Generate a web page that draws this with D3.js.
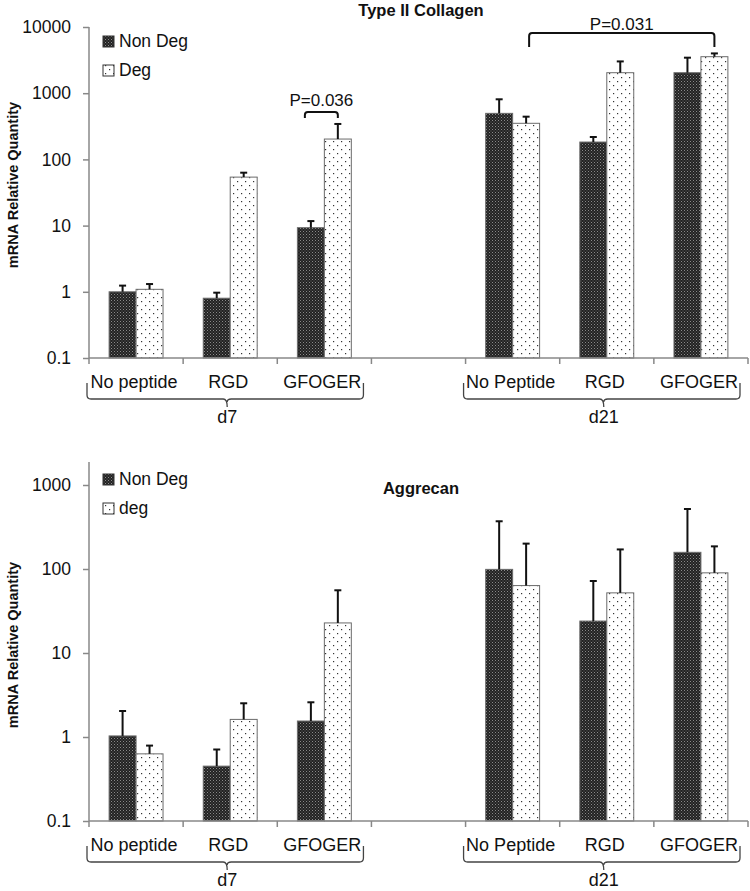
<!DOCTYPE html>
<html>
<head>
<meta charset="utf-8">
<script src="https://cdn.jsdelivr.net/npm/d3@7"></script>
<style>
  html, body { margin: 0; padding: 0; background: #fff; }
  svg text { font-family: "Liberation Sans", Arial, sans-serif; fill: #111; }
</style>
</head>
<body>
<svg id="chart" width="750" height="891"></svg>
<script>
// ---- data ----
const categories = ["No peptide", "RGD", "GFOGER", "No Peptide", "RGD", "GFOGER"];
const groups = ["d7", "d21"];
const slots = [0, 1, 2, 4, 5, 6];           // category slot on the axis (slot 3 is the empty gap)
const yTicks = [0.1, 1, 10, 100, 1000, 10000];
const yTicksAgg = [0.1, 1, 10, 100, 1000];

const colNonDeg    = [1.0, 0.8, 9.3, 496, 183, 2040];
const colNonDegErr = [0.24, 0.17, 2.4, 313, 35, 1400];
const colDeg       = [1.09, 54, 203, 351, 2040, 3560];
const colDegErr    = [0.22, 9, 140, 91, 980, 430];

const aggNonDeg    = [1.03, 0.45, 1.55, 99, 24, 158];
const aggNonDegErr = [1.01, 0.26, 1.04, 271, 48, 360];
const aggDeg       = [0.63, 1.62, 22.8, 63.5, 52, 90];
const aggDegErr    = [0.16, 0.9, 33, 137, 119, 96];

const colStats = [{ from: 2, to: 2, label: "P=0.036" }, { from: 3, to: 5, label: "P=0.031" }];

// ---- drawing ----
const svg = d3.select("#chart");
const defs = svg.append("defs");

const pDark = defs.append("pattern").attr("id", "pDark").attr("patternUnits", "userSpaceOnUse")
  .attr("width", 3).attr("height", 3);
pDark.append("rect").attr("width", 3).attr("height", 3).attr("fill", "#222");
pDark.append("rect").attr("x", 0).attr("y", 0).attr("width", 1).attr("height", 1).attr("fill", "#8a8a8a");
pDark.append("rect").attr("x", 1.5).attr("y", 1.5).attr("width", 1).attr("height", 1).attr("fill", "#6a6a6a");

const pDot = defs.append("pattern").attr("id", "pDot").attr("patternUnits", "userSpaceOnUse")
  .attr("width", 8).attr("height", 8);
pDot.append("rect").attr("width", 8).attr("height", 8).attr("fill", "#fff");
pDot.append("rect").attr("x", 1).attr("y", 1).attr("width", 1.2).attr("height", 1.2).attr("fill", "#333");
pDot.append("rect").attr("x", 5).attr("y", 5).attr("width", 1.2).attr("height", 1.2).attr("fill", "#333");

const xLeft = 89, xRight = 748;
const x0 = d3.scaleBand().domain(d3.range(7)).range([xLeft, xRight]).paddingInner(0).paddingOuter(0);
const x1 = d3.scaleBand().domain(["nd", "d"]).range([0, x0.bandwidth()]).paddingInner(0).paddingOuter(0.746);

function drawPanel(cfg) {
  const g = svg.append("g");
  const y = d3.scaleLog().domain([0.1, cfg.yMax]).range([cfg.base, cfg.top]);

  // title
  g.append("text").attr("x", 421).attr("y", cfg.titleY).attr("text-anchor", "middle")
    .style("font-size", "16.5px").style("font-weight", "bold").text(cfg.title);

  // y label
  g.append("text").attr("transform", `translate(18,${cfg.labelY}) rotate(-90)`)
    .attr("text-anchor", "middle").style("font-size", "14.5px").style("font-weight", "bold")
    .text("mRNA Relative Quantity");

  // y axis
  const ya = g.append("g").attr("transform", `translate(${xLeft},0)`)
    .call(d3.axisLeft(y).tickValues(cfg.ticks).tickFormat(d => String(d)).tickSize(6).tickSizeOuter(0).tickPadding(12));
  ya.select(".domain").remove();
  ya.selectAll(".tick line").attr("stroke", "#888").attr("stroke-width", 1.5);
  ya.selectAll(".tick text").attr("font-size", 17.5).attr("font-family", "Liberation Sans, Arial, sans-serif").attr("fill", "#111");
  g.append("line").attr("x1", xLeft).attr("x2", xLeft).attr("y1", cfg.base).attr("y2", cfg.axisTop)
    .attr("stroke", "#888").attr("stroke-width", 1.5);

  // bars
  const rows = categories.map((c, i) => ({ i, slot: slots[i], nd: cfg.nd[i], ndE: cfg.ndE[i], d: cfg.d[i], dE: cfg.dE[i] }));
  const series = [
    { key: "nd", fill: "url(#pDark)" },
    { key: "d", fill: "url(#pDot)" }
  ];
  series.forEach(s => {
    g.selectAll(null).data(rows).enter().append("rect")
      .attr("x", r => x0(r.slot) + x1(s.key))
      .attr("width", x1.bandwidth())
      .attr("y", r => y(r[s.key]))
      .attr("height", r => y(0.1) - y(r[s.key]))
      .attr("fill", s.fill).attr("stroke", "#6b6b6b").attr("stroke-width", 1);
  });
  // error bars
  series.forEach(s => {
    const cx = r => x0(r.slot) + x1(s.key) + x1.bandwidth() / 2;
    g.selectAll(null).data(rows).enter().append("line")
      .attr("x1", cx).attr("x2", cx)
      .attr("y1", r => y(r[s.key])).attr("y2", r => y(r[s.key] + r[s.key + "E"]))
      .attr("stroke", "#111").attr("stroke-width", 2);
    g.selectAll(null).data(rows).enter().append("line")
      .attr("x1", r => cx(r) - 3.5).attr("x2", r => cx(r) + 3.5)
      .attr("y1", r => y(r[s.key] + r[s.key + "E"])).attr("y2", r => y(r[s.key] + r[s.key + "E"]))
      .attr("stroke", "#111").attr("stroke-width", 2);
  });

  // x axis
  g.append("line").attr("x1", xLeft).attr("x2", xRight).attr("y1", cfg.base).attr("y2", cfg.base)
    .attr("stroke", "#888").attr("stroke-width", 1.5);
  d3.range(8).forEach(k => {
    const xx = k < 7 ? x0(k) : xRight;
    g.append("line").attr("x1", xx).attr("x2", xx).attr("y1", cfg.base).attr("y2", cfg.base + 6)
      .attr("stroke", "#888").attr("stroke-width", 1.5);
  });
  rows.forEach(r => {
    g.append("text").attr("x", x0(r.slot) + x0.bandwidth() / 2 - 2).attr("y", cfg.base + 30)
      .attr("text-anchor", "middle").attr("font-size", 18).text(categories[r.i]);
  });

  // group braces
  groups.forEach((gr, gi) => {
    const a = x0(slots[gi * 3]) - 2;
    const b = x0(slots[gi * 3 + 2]) + x0.bandwidth() - 8;
    const m = (a + b) / 2 + 2;
    const y0 = cfg.base + 25, yh = cfg.base + 41, yt = cfg.base + 49;
    const p = `M${a},${y0} L${a},${yh - 4} Q${a},${yh} ${a + 4},${yh} L${m - 4},${yh} Q${m},${yh} ${m},${yt}` +
      ` M${m},${yh + 3} Q${m},${yh} ${m + 4},${yh} L${b - 4},${yh} Q${b},${yh} ${b},${yh - 4} L${b},${y0}`;
    g.append("path").attr("d", p).attr("fill", "none").attr("stroke", "#444").attr("stroke-width", 1.3);
    g.append("text").attr("x", m).attr("y", cfg.base + 65).attr("text-anchor", "middle")
      .attr("font-size", 18).text(gr);
  });

  // legend
  const leg = [{ label: "Non Deg", fill: "url(#pDark)" }, { label: cfg.degLabel, fill: "url(#pDot)" }];
  leg.forEach((l, k) => {
    const ly = cfg.legY + k * 29;
    g.append("rect").attr("x", 103).attr("y", ly - 11).attr("width", 11).attr("height", 11)
      .attr("fill", l.fill).attr("stroke", "#333").attr("stroke-width", 1);
    g.append("text").attr("x", 119).attr("y", ly).attr("font-size", 17.5).text(l.label);
  });

  // significance brackets
  (cfg.stats || []).forEach(st => {
    let xa, xb, yTop, drop, ty;
    if (st.from === st.to) {
      xa = x0(slots[st.from]) + x1("nd") + x1.bandwidth() / 2 - 6;
      xb = x0(slots[st.from]) + x1("d") + x1.bandwidth() / 2;
      yTop = 112; drop = 6; ty = 106;
    } else {
      xa = x0(slots[st.from]) + x1("d") + x1.bandwidth() / 2 + 3;
      xb = x0(slots[st.to]) + x1("d") + x1.bandwidth() / 2;
      yTop = 33; drop = 14; ty = 30;
    }
    const r = 3;
    g.append("path")
      .attr("d", `M${xa},${yTop + drop} L${xa},${yTop + r} Q${xa},${yTop} ${xa + r},${yTop} L${xb - r},${yTop} Q${xb},${yTop} ${xb},${yTop + r} L${xb},${yTop + drop}`)
      .attr("fill", "none").attr("stroke", "#111").attr("stroke-width", 2);
    g.append("text").attr("x", (xa + xb) / 2).attr("y", ty).attr("text-anchor", "middle")
      .attr("font-size", 17).text(st.label);
  });
}

drawPanel({
  title: "Type II Collagen", titleY: 16, labelY: 185,
  base: 358, top: 27, axisTop: 27, yMax: 10000, ticks: yTicks,
  nd: colNonDeg, ndE: colNonDegErr, d: colDeg, dE: colDegErr,
  degLabel: "Deg", legY: 47, stats: colStats
});
drawPanel({
  title: "Aggrecan", titleY: 494, labelY: 645,
  base: 821, top: 485, axisTop: 462, yMax: 1000, ticks: yTicksAgg,
  nd: aggNonDeg, ndE: aggNonDegErr, d: aggDeg, dE: aggDegErr,
  degLabel: "deg", legY: 485, stats: []
});
</script>
</body>
</html>
